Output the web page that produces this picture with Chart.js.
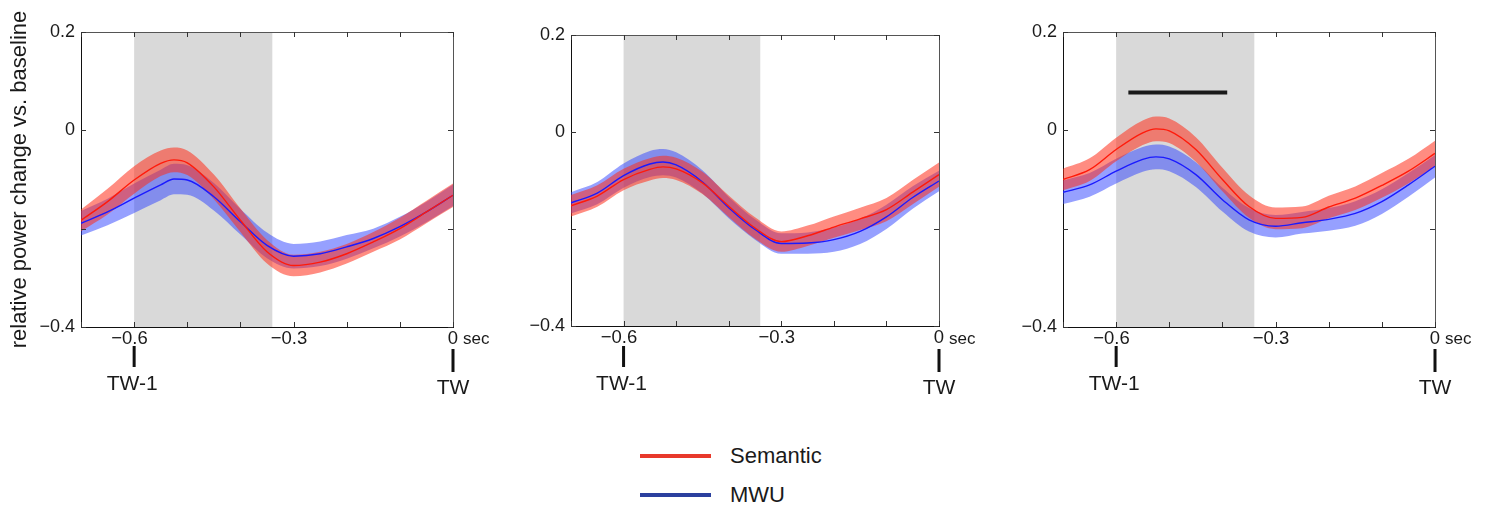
<!DOCTYPE html>
<html>
<head>
<meta charset="utf-8">
<script src="https://cdn.jsdelivr.net/npm/chart.js@4.4.0/dist/chart.umd.min.js"></script>
<style>
  body { margin: 0; background: #fff; width: 1493px; height: 510px; position: relative; overflow: hidden;
         font-family: 'Liberation Sans', Arial, sans-serif; }
  .panel { position: absolute; top: 0; }
  .legend-row { position: absolute; left: 640px; display: flex; align-items: center; height: 30px; }
  .legend-line { width: 71px; height: 4px; margin-right: 19px; }
  .legend-label { font-size: 22px; color: #1a1a1a; }
</style>
</head>
<body>
<div class="panel" style="left:0px"><canvas id="panel1" width="500" height="420"></canvas></div>
<div class="panel" style="left:490px"><canvas id="panel2" width="500" height="420"></canvas></div>
<div class="panel" style="left:982px"><canvas id="panel3" width="511" height="420"></canvas></div>

<div class="legend-row" style="top:441px">
  <div class="legend-line" style="background:#e8392b"></div><span class="legend-label">Semantic</span>
</div>
<div class="legend-row" style="top:480px">
  <div class="legend-line" style="background:#2b409e"></div><span class="legend-label">MWU</span>
</div>

<script>
const FONT = "'Liberation Sans', Arial, sans-serif";

// time (sec) relative to the window TW
const timePoints = [-0.7, -0.65, -0.6, -0.55, -0.525, -0.5, -0.45, -0.4, -0.35, -0.3, -0.25, -0.2, -0.15, -0.1, -0.05, 0];

// panel 1
const semanticMean1 = [-0.183, -0.145, -0.101, -0.067, -0.060, -0.066, -0.115, -0.183, -0.247, -0.275, -0.268, -0.251, -0.227, -0.200, -0.166, -0.132];
const semanticErr1  = [0.022, 0.026, 0.028, 0.026, 0.025, 0.025, 0.025, 0.024, 0.024, 0.022, 0.021, 0.020, 0.020, 0.022, 0.023, 0.024];
const mwuMean1      = [-0.189, -0.166, -0.138, -0.111, -0.099, -0.101, -0.135, -0.186, -0.234, -0.256, -0.251, -0.237, -0.220, -0.196, -0.166, -0.132];
const mwuErr1       = [0.025, 0.027, 0.030, 0.031, 0.031, 0.030, 0.028, 0.026, 0.026, 0.025, 0.025, 0.024, 0.020, 0.020, 0.021, 0.022];

// panel 2
const semanticMean2 = [-0.152, -0.132, -0.098, -0.077, -0.072, -0.076, -0.105, -0.153, -0.198, -0.226, -0.214, -0.196, -0.179, -0.160, -0.124, -0.088];
const semanticErr2  = [0.022, 0.022, 0.022, 0.023, 0.023, 0.023, 0.023, 0.022, 0.022, 0.021, 0.021, 0.022, 0.023, 0.024, 0.025, 0.025];
const mwuMean2      = [-0.146, -0.126, -0.090, -0.066, -0.062, -0.068, -0.103, -0.156, -0.201, -0.230, -0.229, -0.222, -0.205, -0.175, -0.135, -0.101];
const mwuErr2       = [0.022, 0.023, 0.025, 0.027, 0.027, 0.026, 0.024, 0.022, 0.021, 0.021, 0.022, 0.025, 0.026, 0.025, 0.023, 0.021];

// panel 3
const semanticMean3 = [-0.100, -0.080, -0.039, -0.005, 0.003, -0.001, -0.039, -0.100, -0.155, -0.179, -0.177, -0.156, -0.138, -0.112, -0.083, -0.047];
const semanticErr3  = [0.022, 0.023, 0.024, 0.025, 0.025, 0.025, 0.025, 0.024, 0.023, 0.022, 0.022, 0.023, 0.024, 0.025, 0.025, 0.026];
const mwuMean3      = [-0.126, -0.111, -0.083, -0.059, -0.054, -0.058, -0.090, -0.141, -0.182, -0.195, -0.188, -0.181, -0.169, -0.145, -0.111, -0.073];
const mwuErr3       = [0.024, 0.024, 0.025, 0.025, 0.025, 0.025, 0.025, 0.024, 0.024, 0.023, 0.022, 0.023, 0.025, 0.025, 0.024, 0.023];

// significance bar (panel 3 only)
const sigBarX = [-0.577, -0.391];
const sigBarY = 0.077;

// gray analysis window, tick labels
const shadeStart = -0.6;
const shadeEnd = -0.34;
const xLabelTicks = [-0.6, -0.3, 0];
const yLabelTicks = [0.2, 0, -0.4];

const pts = (ys) => timePoints.map((t, i) => ({ x: t, y: ys[i] }));
const band = (m, e, sign) => timePoints.map((t, i) => ({ x: t, y: m[i] + sign * e[i] }));
const fmt = (v) => (v < 0 ? '\u2212' : '') + Math.abs(v).toString();

const decorPlugin = {
  id: 'decor',
  beforeDatasetsDraw(chart) {
    const { ctx, chartArea: a, scales: { x } } = chart;
    ctx.save();
    ctx.fillStyle = '#d9d9d9';
    ctx.fillRect(x.getPixelForValue(shadeStart), a.top, x.getPixelForValue(shadeEnd) - x.getPixelForValue(shadeStart), a.bottom - a.top);
    ctx.restore();
  },
  afterDraw(chart) {
    const { ctx, chartArea: a, scales: { x, y } } = chart;
    ctx.save();
    // top + right frame
    ctx.strokeStyle = '#555';
    ctx.lineWidth = 1;
    ctx.beginPath();
    ctx.moveTo(a.left, a.top + 0.5); ctx.lineTo(a.right + 0.5, a.top + 0.5); ctx.lineTo(a.right + 0.5, a.bottom);
    ctx.stroke();
    // inward ticks
    ctx.strokeStyle = '#333';
    ctx.beginPath();
    x.ticks.forEach(t => {
      const px = Math.round(x.getPixelForValue(t.value)) + 0.5;
      ctx.moveTo(px, a.bottom); ctx.lineTo(px, a.bottom - 5);
      ctx.moveTo(px, a.top); ctx.lineTo(px, a.top + 5);
    });
    y.ticks.forEach(t => {
      const py = Math.round(y.getPixelForValue(t.value)) + 0.5;
      ctx.moveTo(a.left, py); ctx.lineTo(a.left + 5, py);
      ctx.moveTo(a.right, py); ctx.lineTo(a.right - 5, py);
    });
    ctx.stroke();
    // "sec" unit after the 0 label
    ctx.fillStyle = '#1a1a1a';
    ctx.font = '17px ' + FONT;
    ctx.textBaseline = 'middle';
    ctx.textAlign = 'left';
    ctx.fillText('sec', x.getPixelForValue(0) + 10, 339);
    // TW-1 / TW markers
    ctx.strokeStyle = '#111';
    ctx.lineWidth = 3;
    ctx.beginPath();
    const p1 = x.getPixelForValue(-0.6), p0 = x.getPixelForValue(0);
    ctx.moveTo(p1, 346); ctx.lineTo(p1, 367);
    ctx.moveTo(p0, 349); ctx.lineTo(p0, 372);
    ctx.stroke();
    ctx.font = '21px ' + FONT;
    ctx.textAlign = 'center';
    ctx.fillText('TW-1', p1 - 2, 384);
    ctx.fillText('TW', p0, 388);
    ctx.restore();
  }
};

function makePanel(id, semMean, semErr, mwuMean, mwuErr, cfg) {
  const datasets = [
    { data: cfg.sigBar ? [{ x: sigBarX[0], y: sigBarY }, { x: sigBarX[1], y: sigBarY }] : [],
      borderColor: '#1a1a1a', borderWidth: 4, pointRadius: 0, fill: false },
    { data: pts(semMean), borderColor: '#ff1a0a', borderWidth: 1.4, pointRadius: 0, fill: false, cubicInterpolationMode: 'monotone' },
    { data: pts(mwuMean), borderColor: '#1a1aff', borderWidth: 1.4, pointRadius: 0, fill: false, cubicInterpolationMode: 'monotone' },
    { data: band(semMean, semErr, 1), borderWidth: 0, pointRadius: 0, fill: { target: 4 }, backgroundColor: 'rgba(255,45,25,0.55)', cubicInterpolationMode: 'monotone' },
    { data: band(semMean, semErr, -1), borderWidth: 0, pointRadius: 0, fill: false, cubicInterpolationMode: 'monotone' },
    { data: band(mwuMean, mwuErr, 1), borderWidth: 0, pointRadius: 0, fill: { target: 6 }, backgroundColor: 'rgba(45,65,255,0.5)', cubicInterpolationMode: 'monotone' },
    { data: band(mwuMean, mwuErr, -1), borderWidth: 0, pointRadius: 0, fill: false, cubicInterpolationMode: 'monotone' }
  ];
  const canvas = document.getElementById(id);
  return new Chart(canvas, {
    type: 'line',
    data: { datasets },
    plugins: [decorPlugin],
    options: {
      responsive: false,
      animation: false,
      events: [],
      layout: { padding: { top: cfg.top, right: canvas.width - cfg.right, left: 0, bottom: 0 } },
      plugins: { legend: { display: false }, tooltip: { enabled: false } },
      scales: {
        x: {
          type: 'linear', min: -0.7, max: 0,
          grid: { display: false, drawTicks: false },
          border: { display: true, color: '#111', width: 1 },
          ticks: {
            stepSize: 0.1, autoSkip: false, maxRotation: 0, padding: 1, color: '#1a1a1a',
            font: { family: FONT, size: 18.5 },
            callback: (v) => {
              const r = Math.round(v * 10) / 10;
              if (!xLabelTicks.some(t => Math.abs(t - r) < 1e-6)) return '';
              // negative labels sit a little left of their tick, as in the original
              return r < 0 ? fmt(r) + '\u2002' : fmt(r);
            }
          },
          afterFit: (s) => { s.height = canvas.height - cfg.bottom; }
        },
        y: {
          min: -0.4, max: 0.2,
          grid: { display: false, drawTicks: false },
          border: { display: true, color: '#111', width: 1 },
          title: cfg.title ? { display: true, text: 'relative power change vs. baseline', color: '#1a1a1a',
                               font: { family: FONT, size: 22 }, padding: { top: 7, bottom: 0 } } : { display: false },
          ticks: {
            stepSize: 0.2, padding: 6, color: '#1a1a1a',
            font: { family: FONT, size: 18 },
            callback: (v) => {
              const r = Math.round(v * 10) / 10;
              return yLabelTicks.some(t => Math.abs(t - r) < 1e-6) ? fmt(r) : '';
            }
          },
          afterFit: (s) => { s.width = 81; }
        }
      }
    }
  });
}

// cfg.right = x of plot's right edge inside its canvas
makePanel('panel1', semanticMean1, semanticErr1, mwuMean1, mwuErr1, { top: 32, bottom: 327, right: 453, title: true });
makePanel('panel2', semanticMean2, semanticErr2, mwuMean2, mwuErr2, { top: 35, bottom: 326, right: 449, title: false });
makePanel('panel3', semanticMean3, semanticErr3, mwuMean3, mwuErr3, { top: 32, bottom: 327, right: 453, title: false, sigBar: true });
</script>
</body>
</html>
